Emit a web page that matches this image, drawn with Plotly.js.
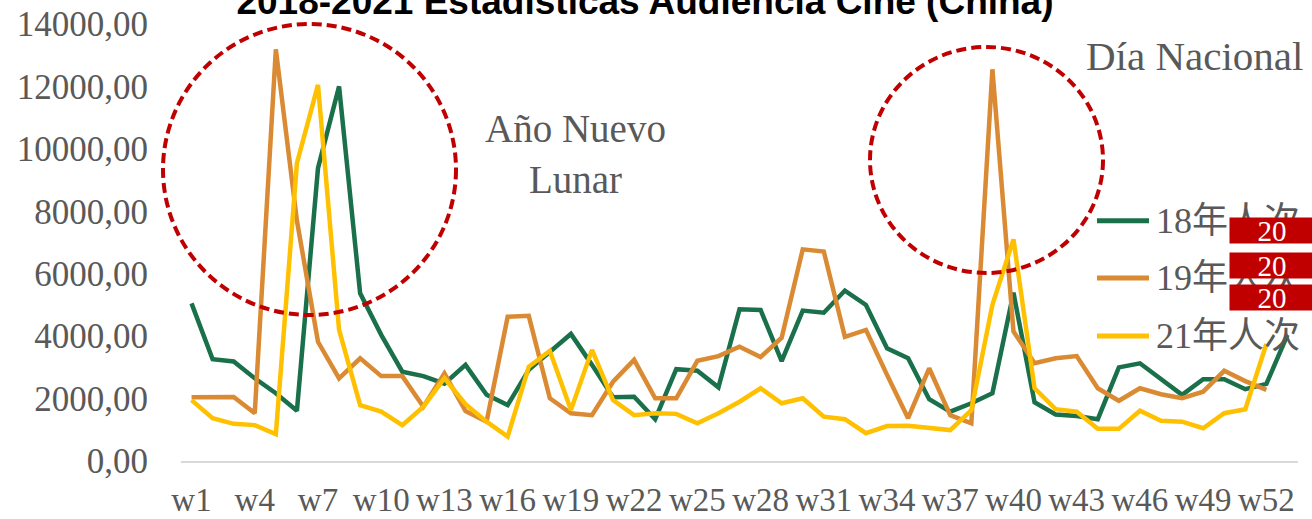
<!DOCTYPE html>
<html>
<head>
<meta charset="utf-8">
<script src="https://cdn.plot.ly/plotly-3.0.1.min.js"></script>
<style>html,body{margin:0;padding:0;background:#fff;}#chart{width:1312px;height:519px;}</style>
</head>
<body>
<div id="chart"></div>
<script>
// ---- data ----
var weeks = ['w1','w2','w3','w4','w5','w6','w7','w8','w9','w10','w11','w12','w13','w14','w15','w16','w17','w18','w19','w20','w21','w22','w23','w24','w25','w26','w27','w28','w29','w30','w31','w32','w33','w34','w35','w36','w37','w38','w39','w40','w41','w42','w43','w44','w45','w46','w47','w48','w49','w50','w51','w52','w53'];
var tickWeeks = ['w1','w4','w7','w10','w13','w16','w19','w22','w25','w28','w31','w34','w37','w40','w43','w46','w49','w52'];
var seriesNames = ['18年人次','19年人次','21年人次'];
var y2018 = [5050,3260,3190,2650,2170,1610,9380,12000,5370,4040,2860,2720,2480,3080,2120,1790,2920,3500,4070,3080,2040,2060,1340,2940,2890,2360,4860,4840,3200,4820,4750,5460,5000,3610,3290,1980,1580,1850,2170,5390,1880,1490,1440,1340,3000,3130,2620,2120,2620,2620,2300,2470,4040];
var y2019 = [2040,2050,2050,1530,13190,7700,3820,2650,3290,2720,2720,1740,2810,1600,1260,4620,4650,2010,1530,1470,2540,3240,2010,2010,3210,3360,3660,3330,3950,6780,6710,3980,4200,2760,1370,2970,1470,1210,12550,4150,3130,3290,3360,2330,1930,2330,2140,2010,2220,2890,2560,2280];
var y2021 = [1950,1370,1190,1150,860,9540,12050,4200,1790,1580,1150,1740,2650,1820,1260,780,3020,3530,1630,3560,1950,1470,1530,1510,1210,1530,1900,2330,1850,2010,1420,1340,890,1120,1130,1070,990,1630,5000,7100,2330,1660,1580,1030,1030,1610,1290,1260,1050,1530,1660,3750];
var colors = ['#19704a','#da8a32','#ffc000'];
var boxLabels = ['20','20','20'];

// ---- geometry helpers (pixel -> paper) ----
var W = 1312, H = 519, ML = 181, MR = 14, MT = 24, MB = 58;
var PW = W - ML - MR, PH = H - MT - MB;
function px(x){ return (x - ML) / PW; }
function py(y){ return (H - MB - y) / PH; }

var serif = "'Liberation Serif', 'Noto Sans CJK SC', serif";
var gray = '#595959';

var ys = [y2018, y2019, y2021];
var traces = ys.map(function(v, i){
  return {
    type: 'scatter', mode: 'lines',
    x: weeks.slice(0, v.length), y: v,
    name: seriesNames[i],
    line: {color: colors[i], width: 4.5, shape: 'linear'},
    showlegend: false, hoverinfo: 'skip'
  };
});

var shapes = [
  {type:'circle', xref:'paper', yref:'paper', x0:px(163), x1:px(456), y0:py(315), y1:py(24),
   line:{color:'#c00000', width:4, dash:'10px,5px'}, layer:'above'},
  {type:'circle', xref:'paper', yref:'paper', x0:px(870), x1:px(1103), y0:py(273), y1:py(47),
   line:{color:'#c00000', width:4, dash:'10px,5px'}, layer:'above'}
];
var legendY = [220.7, 278, 336];
var annotations = [
  {xref:'paper', yref:'paper', x:px(575), y:py(154), xanchor:'center', yanchor:'middle', showarrow:false,
   text:'Año Nuevo<br>Lunar', font:{family:serif, size:39, color:gray}},
  {xref:'paper', yref:'paper', x:px(1194), y:py(56), xanchor:'center', yanchor:'middle', showarrow:false,
   text:'Día Nacional', font:{family:serif, size:41, color:gray}}
];
legendY.forEach(function(yy, i){
  shapes.push({type:'line', xref:'paper', yref:'paper', x0:px(1097), x1:px(1149), y0:py(yy), y1:py(yy),
    line:{color:colors[i], width:5}, layer:'above'});
  annotations.push({xref:'paper', yref:'paper', x:px(1154), y:py(yy), xanchor:'left', yanchor:'middle',
    showarrow:false, text:seriesNames[i], font:{family:serif, size:36, color:gray}});
});
var boxY = [230.5, 265.5, 297.5];
boxY.forEach(function(yy, i){
  annotations.push({xref:'paper', yref:'paper', x:px(1272), y:py(yy), xanchor:'center', yanchor:'middle',
    showarrow:false, text:boxLabels[i], width:84, height:25, bgcolor:'#c00000', borderpad:0,
    font:{family:serif, size:29, color:'#ffffff'}});
});

var layout = {
  width: W, height: H,
  margin: {l: ML, r: MR, t: MT, b: MB, pad: 0},
  paper_bgcolor: '#ffffff', plot_bgcolor: '#ffffff',
  separators: ',.',
  showlegend: false,
  title: {text: '<b>2018-2021 Estadísticas Audiencia Cine (China)</b>',
    font: {family: "'Liberation Sans', Arial, sans-serif", size: 37, color: '#000000'},
    xref: 'container', x: 645/1312, xanchor: 'center',
    yref: 'container', y: 1 - 14/519, yanchor: 'bottom'},
  xaxis: {type: 'category', categoryorder: 'array', categoryarray: weeks,
    range: [-0.5, 52.5], tickmode: 'array', tickvals: tickWeeks, ticktext: tickWeeks,
    showgrid: false, zeroline: false, showline: true, linecolor: '#d9d9d9', linewidth: 1.5,
    ticks: '', ticklabelstandoff: 9,
    tickfont: {family: serif, size: 33, color: gray}, fixedrange: true},
  yaxis: {range: [0, 14000], dtick: 2000, tick0: 0, tickformat: '.2f',
    showgrid: false, zeroline: false, showline: false, ticks: '', ticklabelstandoff: 32,
    tickfont: {family: serif, size: 35, color: gray}, fixedrange: true},
  shapes: shapes,
  annotations: annotations
};

Plotly.newPlot('chart', traces, layout, {displayModeBar: false, staticPlot: true});
</script>
</body>
</html>
